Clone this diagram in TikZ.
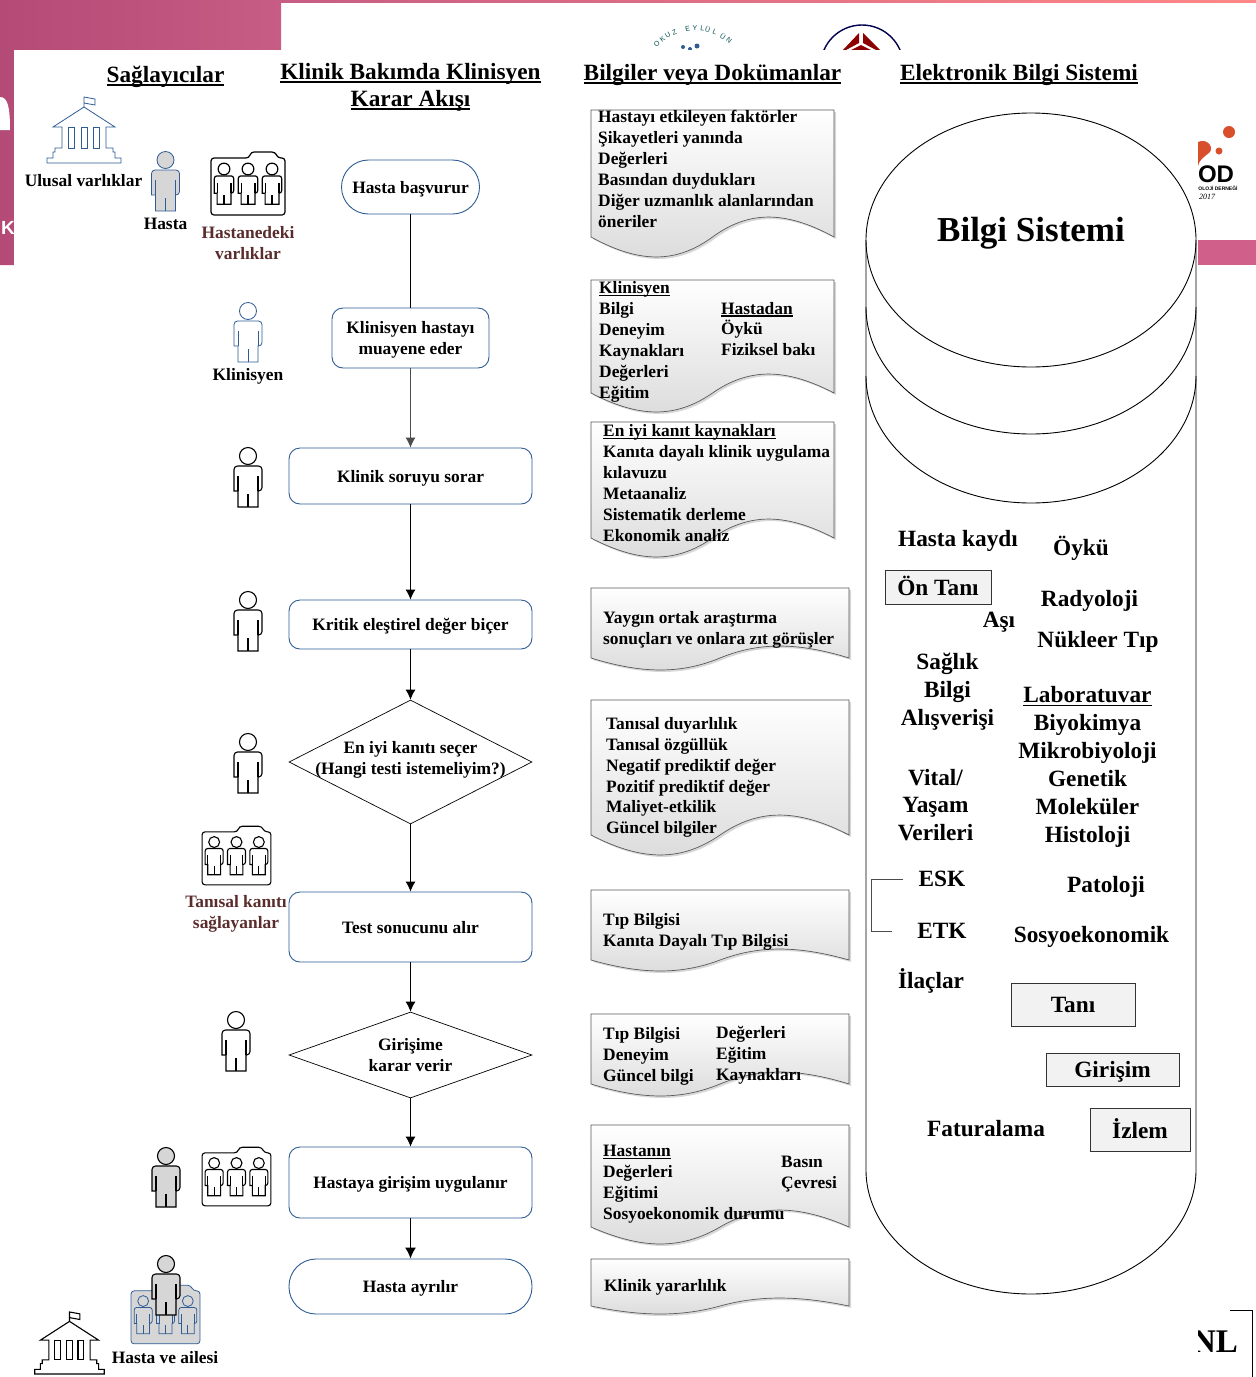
\documentclass[tikz,border=0pt]{standalone}
\usepackage{fontspec}
\setmainfont{Liberation Serif}
\newfontfamily\logofont{Liberation Sans}
\usetikzlibrary{
  arrows.meta,shapes.geometric,shadows
}
\definecolor{flowblue}{HTML}{2F5C94}
\definecolor{brownlabel}{HTML}{5A2C2C}
\definecolor{pinkdark}{HTML}{B44A76}
\definecolor{pinklight}{HTML}{C75D84}
\definecolor{pinkstrip}{HTML}{D0608A}
\definecolor{logored}{HTML}{D94F2B}
\newcommand{\undertxt}[1]{\leavevmode\setbox0=\hbox{#1}\rlap{\rule[-.15em]{\wd0}{.075em}}\box0}
\tikzset{
  smalltxt/.style={font=\fontsize{17.4}{20.9}\selectfont\bfseries,align=center,inner sep=0pt},
  doctxt/.style={smalltxt,align=left,anchor=west},
  headtxt/.style={font=\fontsize{23.3}{27}\selectfont\bfseries,align=center,inner sep=0pt},
  systxt/.style={font=\fontsize{23.3}{27.9}\selectfont\bfseries,align=center,inner sep=0pt},
  sysbox/.style={systxt,draw=black!80,fill=black!5,line width=.9pt},
  flowbox/.style={smalltxt,text depth=0pt,draw=flowblue,line width=.9pt,rounded corners=11pt},
  flowdiamond/.style={diamond,draw=black,line width=.7pt,inner sep=0pt,aspect=2,
    minimum width=243pt},
  flowline/.style={line width=.9pt,-{Latex[length=10pt,width=10pt]}},
  docstyle/.style={draw=black!65,line width=.7pt,top color=white,bottom color=black!14,
    drop shadow={opacity=.3,shadow xshift=2pt,shadow yshift=-2pt}},
  person/.pic={
    \draw[pic actions] (0,0) circle[radius=8.5];
    \draw[pic actions] (-10,51) -- (-10,35) -- (-14,35) {[rounded corners=3.5pt] -- (-14,10) -- (14,10) -- (14,35)}
      -- (10,35) -- (10,51) -- cycle;
    \draw[pic actions] (-10,20) -- (-10,35) (10,20) -- (10,35) (0,38) -- (0,51);
  },
  group/.pic={
    \draw[pic actions,rounded corners=3pt] (-37,31) -- (-37,-26) -- (1,-26) -- (3,-32) -- (27,-32) -- (30,-26) -- (37,-26)
      -- (37,31) -- cycle;
    \foreach \px in {-24,0,24}{
      \begin{scope}[shift={(\px,-15)},scale=.69]
        \draw[pic actions] (0,0) circle[radius=8.5];
        \draw[pic actions] (-10,51) -- (-10,35) -- (-14,35) {[rounded corners=2.5pt] -- (-14,10) -- (14,10) -- (14,35)}
          -- (10,35) -- (10,51) -- cycle;
        \draw[pic actions] (-10,20) -- (-10,35) (10,20) -- (10,35) (0,38) -- (0,51);
      \end{scope}
    }
  },
  building/.pic={
    \draw[pic actions] (-22,-15) -- (-22,-36) -- (-31,-36) -- (0,-56) -- (31,-36) -- (22,-36) -- (22,-15)
      -- (29,-15) -- (29,-11) -- (31,-11) -- (31,-5) -- (37,-5) -- (37,0) -- (-37,0) -- (-37,-5) -- (-31,-5)
      -- (-31,-11) -- (-29,-11) -- (-29,-15) -- cycle;
    \draw[pic actions] (0,-56) -- (0,-66) -- (11,-64) -- (11,-58) -- (0,-60);
    \foreach \cx in {-13,0,12}
      \draw[pic actions] (\cx-3,-36) rectangle (\cx+3,-15);
  }
}
\newcommand{\docshape}[5]{
  \path[docstyle] (#1,#3) -- (#2,#3) -- (#2,#4)
    .. controls ({#2-.2*(#2-#1)},{#4-1.33*#5}) and ({#2-.35*(#2-#1)},{#4-1.33*#5}) .. ({(#1+#2)/2},#4)
    .. controls ({#1+.35*(#2-#1)},{#4+1.33*#5}) and ({#1+.2*(#2-#1)},{#4+1.33*#5}) .. (#1,#4) -- cycle;
}

\begin{document}
\begin{tikzpicture}[x=1pt,y=-1pt]
\useasboundingbox (0,0) rectangle (1256,1377);

% remains of the slide behind
\shade[left color=pinkdark,right color=pinklight] (0,0) -- (281,0) -- (281,50) -- (14,50) -- (14,265) -- (0,265) -- cycle;
\fill[white] (0,130) -- (0,97) .. controls (8,97) and (10,108) .. (10,130) -- cycle;
\begin{scope}
\clip (0,200) rectangle (14,250);
\node[font=\logofont\fontsize{19}{19}\selectfont\bfseries,text=white] (slidek) at (8,228) {K};
\end{scope}
\shade[left color=pinklight,right color=red!45!pink!80!white] (281,0) rectangle (1256,2.5);
\fill[pinkstrip] (1198,240) rectangle (1256,265);
\foreach \ch/\a in {O/-46,K/-38,U/-31,Z/-23,E/-8,Y/0,L/8,Ü/14,L/22,Ü/32,N/40}{
  \node[font=\logofont\fontsize{7}{7}\selectfont,text=teal!60!black,rotate=-\a,inner sep=0pt]
    at ({695+53*sin(\a)},{81-53*cos(\a)}) {\ch};
}
\begin{scope}
\clip (600,0) rectangle (920,50);
\fill[flowblue] (683,47) circle[radius=2] (697,46) circle[radius=2.5] (690,49) circle[radius=2];
\draw[black!70!blue,line width=1.4pt] (862,66.4) circle[radius=41.4];
\fill[red!55!black] (859,33) -- (859,43) -- (846,50) -- (843,50) -- cycle;
\fill[red!55!black] (863,33) -- (880,50) -- (876,50) -- (863,43) -- cycle;
\fill[red!55!black] (861,45) -- (871,50) -- (851,50) -- cycle;
\end{scope}
\begin{scope}
\clip (1198,120) rectangle (1256,210);
\fill[logored] (1229,132) circle[radius=6] (1219,151) circle[radius=3.5];
\fill[logored] (1198,142) .. controls (1206,138) and (1214,146) .. (1210,152) .. controls (1206,156) and (1200,158) .. (1198,166) -- cycle;
\node[font=\logofont\fontsize{24}{24}\selectfont\bfseries] (logood) at (1216,174) {OD};
\node[font=\logofont\fontsize{5}{5}\selectfont\bfseries] (logoder) at (1218,188) {OLOJİ DERNEĞİ};
\node[font=\fontsize{8}{8}\selectfont\itshape] (logoyil) at (1207,197) {2017};
\end{scope}
\begin{scope}
\clip (1198,1300) rectangle (1256,1377);
\draw[line width=1pt] (1230,1310) -- (1252,1310) -- (1252,1377);
\node[font=\fontsize{33}{33}\selectfont\bfseries] (logonl) at (1215,1342) {NL};
\end{scope}
\fill[white] (14,50) rectangle (1198,1377);

% titles
\node[headtxt] (saglayici) at (165.5,77) {\undertxt{Sağlayıcılar}};
\node[headtxt] (klinik) at (410.5,87) {\undertxt{Klinik Bakımda Klinisyen}\\\undertxt{Karar Akışı}};
\node[headtxt] (bilgiler) at (712.5,75) {\undertxt{Bilgiler veya Dokümanlar}};
\node[headtxt] (elektronik) at (1019,75) {\undertxt{Elektronik Bilgi Sistemi}};

% actors
\pic[draw=flowblue,line width=.8pt] at (84,163) {building};
\pic[draw=flowblue,fill=black!16,line width=.8pt] at (165.5,160) {person};
\pic[draw=black,line width=1.2pt] at (248,184) {group};
\pic[draw=flowblue,line width=.8pt] at (248,311) {person};
\pic[draw=black,line width=1.1pt] at (248,456) {person};
\pic[draw=black,line width=1.1pt] at (248,600) {person};
\pic[draw=black,line width=1.1pt] at (248,742) {person};
\pic[draw=black,line width=1.1pt,scale=.93] at (236.5,856) {group};
\pic[draw=black,line width=1.1pt] at (236,1020) {person};
\pic[draw=black,fill=black!16,line width=1.1pt] at (166,1156) {person};
\pic[draw=black,line width=1.1pt,scale=.93] at (236.5,1177) {group};
\pic[draw=black,line width=1.1pt,scale=.94] at (69.5,1374) {building};
\pic[draw=flowblue,fill=black!16,line width=.8pt,scale=.93] at (165.5,1315) {group};
\pic[draw=black,fill=black!16,line width=1.1pt] at (166,1264) {person};

\node[smalltxt] (ulusal) at (83.5,181) {Ulusal varlıklar};
\node[smalltxt] (hasta) at (165.5,224) {Hasta};
\node[smalltxt,text=brownlabel] (hastanedeki) at (248,243) {Hastanedeki\\varlıklar};
\node[smalltxt] (klinisyen) at (248,376) {Klinisyen};
\node[smalltxt,text=brownlabel] (tanisal) at (236,914) {Tanısal kanıtı\\sağlayanlar};
\node[smalltxt] (aile) at (165,1358) {Hasta ve ailesi};

% flow
\node[flowbox,rounded corners=27pt,minimum width=138pt,minimum height=54pt] (basvuru) at (410.5,187) {Hasta başvurur};
\node[flowbox,minimum width=157pt,minimum height=60pt] (muayene) at (410.5,338) {Klinisyen hastayı\\muayene eder};
\node[flowbox,minimum width=243pt,minimum height=56pt] (soru) at (410.5,476) {Klinik soruyu sorar};
\node[flowbox,minimum width=243pt,minimum height=49pt] (elestiri) at (410.5,624.5) {Kritik eleştirel değer biçer};
\node[flowdiamond,minimum height=124pt,label={[smalltxt,yshift=2.5pt]center:En iyi kanıtı seçer\\(Hangi testi istemeliyim?)}] (secim) at (410.5,762) {};
\node[flowbox,minimum width=243pt,minimum height=70pt] (sonuc) at (410.5,927) {Test sonucunu alır};
\node[flowdiamond,minimum height=86pt,label={[smalltxt]center:Girişime\\karar verir}] (karar) at (410.5,1055) {};
\node[flowbox,minimum width=243pt,minimum height=71pt] (uygulama) at (410.5,1182.5) {Hastaya girişim uygulanır};
\node[flowbox,rounded corners=27pt,minimum width=243pt,minimum height=55pt] (ayrilir) at (410.5,1286.5) {Hasta ayrılır};

\draw[line width=.9pt] (basvuru) -- (muayene);
\draw[flowline,black!70] (muayene) -- (soru);
\draw[flowline] (soru) -- (elestiri);
\draw[flowline] (elestiri) -- (secim);
\draw[flowline] (secim) -- (sonuc);
\draw[flowline] (sonuc) -- (karar);
\draw[flowline] (karar) -- (uygulama);
\draw[line width=1.2pt,-{Latex[length=11pt,width=11pt]}] (uygulama) -- (ayrilir);

% documents
\docshape{591}{834}{110}{237}{20}
\docshape{591}{834}{280}{393}{19}
\docshape{591}{834}{422}{538}{19}
\docshape{591}{849}{588}{658}{12}
\docshape{591}{849}{700}{835}{20}
\docshape{591}{849}{890}{960}{11}
\docshape{591}{849}{1014}{1084}{12}
\docshape{591}{849}{1125}{1227}{17}
\docshape{591}{849}{1259}{1306}{8}

\node[doctxt] (faktor) at (598,169) {Hastayı etkileyen faktörler\\Şikayetleri yanında\\Değerleri\\Basından duydukları\\Diğer uzmanlık alanlarından\\öneriler};
\node[doctxt] (klin) at (599,342) {\undertxt{Klinisyen}\\Bilgi\\Deneyim\\Kaynakları\\Değerleri\\Eğitim};
\node[doctxt] (hastadan) at (721,329) {\undertxt{Hastadan}\\Öykü\\Fiziksel bakı};
\node[doctxt] (kaynak) at (603,483) {\undertxt{En iyi kanıt kaynakları}\\Kanıta dayalı klinik uygulama\\kılavuzu\\Metaanaliz\\Sistematik derleme\\Ekonomik analiz};
\node[doctxt] (yaygin) at (603,630) {Yaygın ortak araştırma\\sonuçları ve onlara zıt görüşler};
\node[doctxt] (duyarlilik) at (606,777.5) {Tanısal duyarlılık\\Tanısal özgüllük\\Negatif prediktif değer\\Pozitif prediktif değer\\Maliyet-etkilik\\Güncel bilgiler};
\node[doctxt] (tipbilgi) at (603,931.5) {Tıp Bilgisi\\Kanıta Dayalı Tıp Bilgisi};
\node[doctxt] (deneyim) at (603,1056) {Tıp Bilgisi\\Deneyim\\Güncel bilgi};
\node[doctxt] (degerler) at (716,1055) {Değerleri\\Eğitim\\Kaynakları};
\node[doctxt] (hastanin) at (603,1184) {\undertxt{Hastanın}\\Değerleri\\Eğitimi\\Sosyoekonomik durumu};
\node[doctxt] (basin) at (781,1174) {Basın\\Çevresi};
\node[doctxt] (yarar) at (604,1287.5) {Klinik yararlılık};

% information system
\draw[line width=.9pt] (866,240) -- (866,1170) .. controls (866,1238) and (940,1294) .. (1031,1294)
  .. controls (1122,1294) and (1196,1238) .. (1196,1170) -- (1196,240);
\draw[line width=.9pt] (1031,240) ellipse[x radius=165,y radius=127];
\draw[line width=.9pt] (866,307) .. controls (866,377) and (940,434) .. (1031,434) .. controls (1122,434) and (1196,377) .. (1196,307);
\draw[line width=.9pt] (866,376) .. controls (866,446) and (940,503) .. (1031,503) .. controls (1122,503) and (1196,446) .. (1196,376);

\node[font=\fontsize{35}{40}\selectfont\bfseries,inner sep=0pt] (sistem) at (1031,233) {Bilgi Sistemi};
\node[systxt] (kayit) at (958,541) {Hasta kaydı};
\node[systxt] (oyku) at (1081,548) {Öykü};
\node[sysbox,minimum width=106pt,minimum height=34pt,text depth=0pt,text height=16pt] (ontani) at (938,587) {Ön Tanı};
\node[systxt] (radyoloji) at (1089.5,601) {Radyoloji};
\node[systxt] (asi) at (999,622) {Aşı};
\node[systxt] (nukleer) at (1098,642) {Nükleer Tıp};
\node[systxt] (saglik) at (947.5,692) {Sağlık\\Bilgi\\Alışverişi};
\node[systxt] (lab) at (1087.5,767) {\undertxt{Laboratuvar}\\Biyokimya\\Mikrobiyoloji\\Genetik\\Moleküler\\Histoloji};
\node[systxt] (vital) at (935.5,805) {Vital/\\Yaşam\\Verileri};
\node[systxt] (esk) at (942,879) {ESK};
\node[systxt] (etk) at (942,931) {ETK};
\node[systxt] (patoloji) at (1106,887) {Patoloji};
\node[systxt] (sosyo) at (1091.5,937) {Sosyoekonomik};
\node[systxt] (ilac) at (931,981) {İlaçlar};
\node[sysbox,minimum width=124pt,minimum height=43pt] (tani) at (1073,1004.5) {Tanı};
\node[sysbox,minimum width=133pt,minimum height=33pt,text depth=0pt] (girisim) at (1112.5,1069.5) {Girişim};
\node[systxt] (fatura) at (986,1129) {Faturalama};
\node[sysbox,minimum width=100pt,minimum height=43pt,text depth=0pt,text height=17pt] (izlem) at (1140,1129.5) {İzlem};

\coordinate (eskfoot) at (903,879);
\coordinate (etkfoot) at (892,931);
\draw[black!70,line width=.8pt] (eskfoot) -- (871,879) -- (871,931) -- (etkfoot);
\end{tikzpicture}
\end{document}
